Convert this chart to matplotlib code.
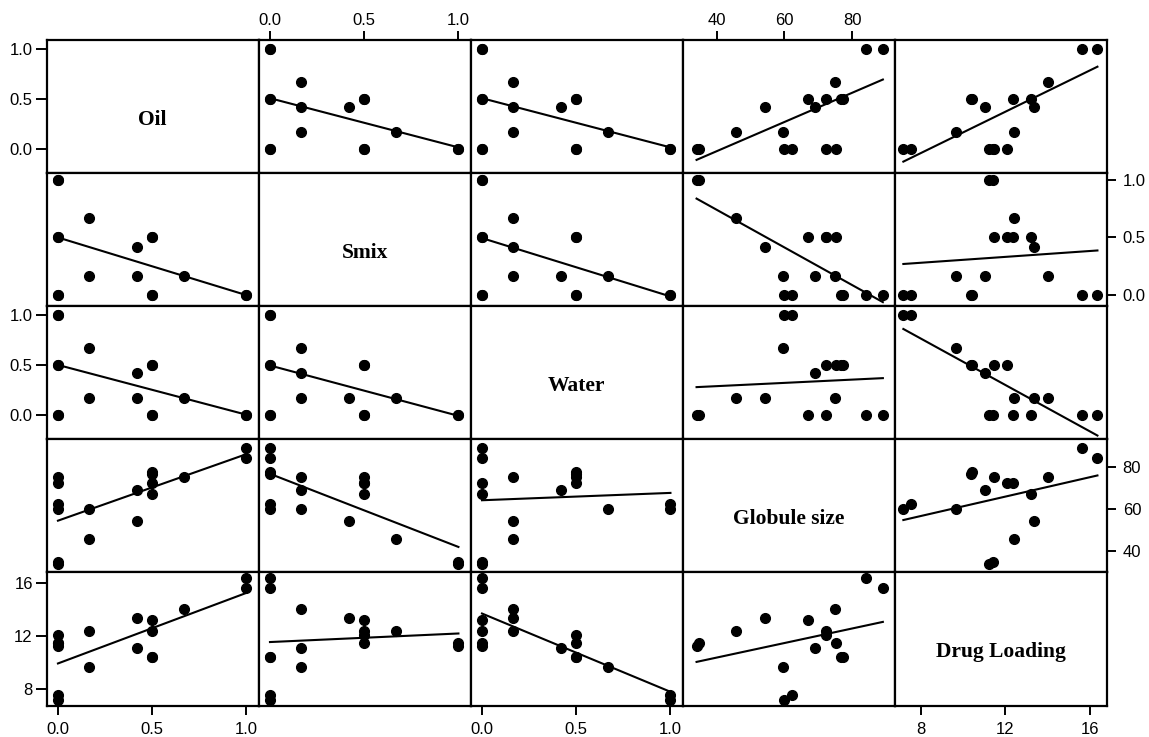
import matplotlib
matplotlib.use("Agg")
import matplotlib.pyplot as plt
import numpy as np

# ---- data (17 runs) ----
names = ["Oil", "Smix", "Water", "Globule size", "Drug Loading"]
oil = [1, 1, 0, 0, 0, 0, 0.5, 0.5, 0.5, 0.5, 0, 0, 0.667, 0.167, 0.167, 0.417, 0.417]
smix = [0, 0, 1, 1, 0, 0, 0.5, 0.5, 0, 0, 0.5, 0.5, 0.167, 0.667, 0.167, 0.417, 0.167]
water = [0, 0, 0, 0, 1, 1, 0, 0, 0.5, 0.5, 0.5, 0.5, 0.167, 0.167, 0.667, 0.167, 0.417]
globule = [84.1, 89.1, 34.8, 34.0, 60.0, 62.2, 67.1, 72.2, 77.3, 76.6, 75.3, 72.2,
           75.0, 45.8, 59.7, 54.2, 69.1]
drug = [16.36, 15.64, 11.42, 11.2, 7.16, 7.5, 13.2, 12.35, 10.42, 10.38, 11.44, 12.07,
        14.0, 12.4, 9.65, 13.35, 11.05]

prop_ticks = [0.0, 0.5, 1.0]
prop_labels = ["0.0", "0.5", "1.0"]
glob_ticks = [40, 60, 80]
glob_labels = ["40", "60", "80"]
drug_ticks = [8, 12, 16]
drug_labels = ["8", "12", "16"]

data = [np.array(v, dtype=float) for v in (oil, smix, water, globule, drug)]
ticks = [prop_ticks, prop_ticks, prop_ticks, glob_ticks, drug_ticks]
tlabels = [prop_labels, prop_labels, prop_labels, glob_labels, drug_labels]

# axis limits (layout only)
xlims = [(-0.06, 1.065), (-0.06, 1.065), (-0.06, 1.065), (29.9, 92.6), (6.75, 16.8)]
ylims = [(-0.247, 1.09), (-0.096, 1.058), (-0.247, 1.09), (29.8, 93.0), (6.72, 16.8)]

plt.rcParams["font.family"] = ["Liberation Sans", "DejaVu Sans"]

fig = plt.figure(figsize=(11.49, 7.37), dpi=100)
gs = fig.add_gridspec(5, 5, left=0.0406, right=0.9632, top=0.9457, bottom=0.0427,
                      wspace=0, hspace=0)

n = 5
for i in range(n):
    for j in range(n):
        ax = fig.add_subplot(gs[i, j])
        for s in ax.spines.values():
            s.set_linewidth(1.6)
            s.set_color("black")
        ax.set_xlim(*xlims[j])
        ax.set_ylim(*ylims[i])
        ax.set_xticks([])
        ax.set_yticks([])
        if i == j:
            ax.text(0.5, 0.40, names[i], transform=ax.transAxes, ha="center",
                    va="center", fontsize=15.5, fontweight="bold",
                    family=["Liberation Serif", "DejaVu Serif"])
        else:
            x = data[j]
            y = data[i]
            ax.plot(x, y, "o", color="black", ms=7, zorder=3)
            coef = np.polyfit(x, y, 1)
            xs = np.array([x.min(), x.max()])
            ax.plot(xs, np.polyval(coef, xs), color="black", lw=1.5, zorder=2)

        # tick placement in the alternating scatter-matrix style
        if i == n - 1 and j in (0, 2, 4):
            ax.xaxis.set_ticks_position("bottom")
            ax.set_xticks(ticks[j])
            ax.set_xticklabels(tlabels[j])
            ax.tick_params(axis="x", direction="out", length=6.5, width=1.4,
                           pad=5, labelsize=12)
        if i == 0 and j in (1, 3):
            ax.xaxis.set_ticks_position("top")
            ax.set_xticks(ticks[j])
            ax.set_xticklabels(tlabels[j])
            ax.tick_params(axis="x", direction="out", length=6.5, width=1.4,
                           pad=2, labelsize=12, labeltop=True, labelbottom=False)
        if j == 0 and i in (0, 2, 4):
            ax.yaxis.set_ticks_position("left")
            ax.set_yticks(ticks[i])
            ax.set_yticklabels(tlabels[i])
            ax.tick_params(axis="y", direction="out", length=8, width=1.4,
                           pad=2, labelsize=12)
        if j == n - 1 and i in (1, 3):
            ax.yaxis.set_ticks_position("right")
            ax.set_yticks(ticks[i])
            ax.set_yticklabels(tlabels[i])
            ax.tick_params(axis="y", direction="out", length=6.5, width=1.4,
                           pad=5, labelsize=12, labelright=True, labelleft=False)

fig.savefig("out.png", dpi=100, facecolor="white")
